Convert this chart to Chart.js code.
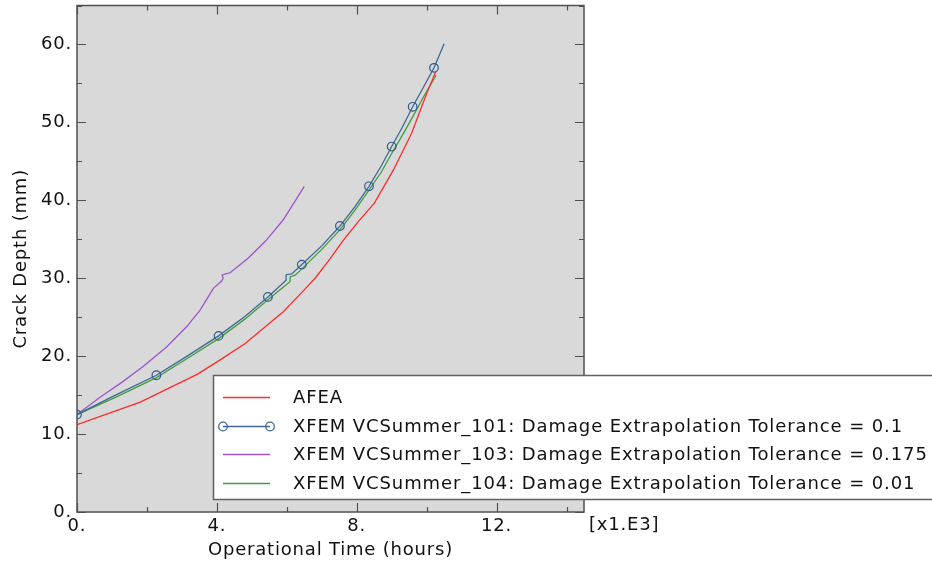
<!DOCTYPE html>
<html>
<head>
<meta charset="utf-8">
<script src="https://cdn.jsdelivr.net/npm/chart.js@4.4.1/dist/chart.umd.min.js"></script>
<style>
  html, body { margin: 0; padding: 0; background: #fff; }
</style>
</head>
<body>
<canvas id="myChart" width="932" height="565"></canvas>
<script>
// crack depth (mm) against operational time (x1000 h)
const afeaTime = [0, 1.81, 3.45, 4.05, 4.8, 5.9, 6.35, 6.81, 7.22, 7.62, 8.05, 8.5, 9.05, 9.57, 10.0, 10.27];
const afeaDepth = [11.2, 14.1, 17.7, 19.4, 21.6, 25.7, 27.8, 30.0, 32.4, 34.9, 37.3, 39.6, 43.9, 48.6, 53.7, 56.6];

const xfem101Time = [0, 1.1, 2.27, 3.15, 4.05, 4.8, 5.46, 5.98, 5.98, 6.14, 6.43, 7.0, 7.52, 7.95, 8.35, 8.7, 9.0, 9.3, 9.6, 9.9, 10.21, 10.5];
const xfem101Depth = [12.5, 15.0, 17.55, 20.0, 22.6, 25.1, 27.6, 29.75, 30.45, 30.55, 31.75, 34.15, 36.7, 39.2, 41.8, 44.4, 46.9, 49.35, 52.0, 54.45, 57.0, 60.1];
const xfem101Marks = [0, 2, 4, 6, 10, 12, 14, 16, 18, 20];

const xfem103Time = [0, 0.65, 1.3, 1.9, 2.57, 3.14, 3.52, 3.9, 4.13, 4.18, 4.15, 4.25, 4.38, 4.9, 5.4, 5.9, 6.5];
const xfem103Depth = [12.5, 14.7, 16.7, 18.7, 21.2, 23.8, 25.9, 28.7, 29.6, 30.0, 30.4, 30.55, 30.7, 32.6, 34.8, 37.5, 41.8];

const xfem104Time = [0, 1.1, 2.27, 3.15, 4.05, 4.8, 5.46, 6.09, 6.1, 6.24, 6.43, 7.0, 7.52, 7.95, 8.35, 8.7, 9.0, 9.3, 9.6, 9.9, 10.27];
const xfem104Depth = [12.5, 14.7, 17.25, 19.7, 22.25, 24.75, 27.25, 29.55, 30.2, 30.4, 31.2, 33.7, 36.2, 38.75, 41.3, 43.6, 46.0, 48.3, 50.7, 53.2, 56.05];

const seriesLabels = [
  'AFEA',
  'XFEM VCSummer_101: Damage Extrapolation Tolerance = 0.1',
  'XFEM VCSummer_103: Damage Extrapolation Tolerance = 0.175',
  'XFEM VCSummer_104: Damage Extrapolation Tolerance = 0.01'
];

const FONT = 'DejaVu Sans, Verdana, sans-serif';
const SPACING = '0.8px';

const pts = (xs, ys) => xs.map((x, i) => ({ x: x, y: ys[i] }));

// no label overhang padding, the plot box is placed by the layout padding
const noOverhang = s => {
  s.paddingTop = 0; s.paddingBottom = 0; s.paddingLeft = 0; s.paddingRight = 0;
};

// wider text tracking for every label
const tracking = {
  id: 'tracking',
  beforeLayout(chart) { chart.ctx.letterSpacing = SPACING; },
  beforeDraw(chart) { chart.ctx.letterSpacing = SPACING; }
};

// grey plot area, frame and inward tick marks on every side
const frame = {
  id: 'frame',
  beforeDatasetsDraw(chart) {
    const { ctx, chartArea: a } = chart;
    ctx.save();
    ctx.fillStyle = '#d9d9d9';
    ctx.fillRect(a.left, a.top, a.right - a.left, a.bottom - a.top);
    ctx.restore();
  },
  afterDatasetsDraw(chart) {
    const { ctx, chartArea: a, scales } = chart;
    ctx.save();
    ctx.strokeStyle = '#505050';
    ctx.lineWidth = 1.5;
    ctx.strokeRect(a.left, a.top, a.right - a.left, a.bottom - a.top);
    ctx.lineWidth = 1.2;
    ctx.beginPath();
    for (let v = 0; v <= 14.5; v += 2) {
      const px = Math.round(scales.x.getPixelForValue(v)) + 0.5;
      const len = v % 4 === 0 ? 9 : 5;
      ctx.moveTo(px, a.bottom); ctx.lineTo(px, a.bottom - len);
      ctx.moveTo(px, a.top); ctx.lineTo(px, a.top + len);
    }
    for (let v = 0; v <= 65; v += 5) {
      const py = Math.round(scales.y.getPixelForValue(v)) + 0.5;
      const len = v % 10 === 0 ? 9 : 5;
      ctx.moveTo(a.left, py); ctx.lineTo(a.left + len, py);
      ctx.moveTo(a.right, py); ctx.lineTo(a.right - len, py);
    }
    ctx.stroke();

    ctx.fillStyle = '#111';
    ctx.font = '18px ' + FONT;
    ctx.letterSpacing = SPACING;
    ctx.textBaseline = 'middle';
    ctx.textAlign = 'left';
    ctx.fillText('[x1.E3]', a.right + 5, 525);
    ctx.restore();
  }
};

// boxed legend overlapping the lower right corner
const legendBox = {
  id: 'legendBox',
  afterDraw(chart) {
    const ctx = chart.ctx;
    ctx.save();
    ctx.fillStyle = '#fff';
    ctx.fillRect(213.5, 375.5, 720, 124);
    ctx.strokeStyle = '#606060';
    ctx.lineWidth = 1.5;
    ctx.strokeRect(213.5, 375.5, 720, 124);
    ctx.font = '18px ' + FONT;
    ctx.letterSpacing = '0.9px';
    ctx.textBaseline = 'middle';
    ctx.textAlign = 'left';
    chart.data.datasets.forEach((ds, i) => {
      const y = Math.round(397 + i * 28.6) + 0.5;
      ctx.strokeStyle = ds.borderColor;
      ctx.lineWidth = ds.borderWidth;
      ctx.beginPath();
      ctx.moveTo(223, y); ctx.lineTo(270, y);
      ctx.stroke();
      if (ds.label === seriesLabels[1]) {
        [223, 270].forEach(cx => {
          ctx.beginPath();
          ctx.arc(cx, y, 4.3, 0, Math.PI * 2);
          ctx.stroke();
        });
      }
      ctx.fillStyle = '#111';
      ctx.fillText(ds.label, 293, y + 1);
    });
    ctx.restore();
  }
};

var ctx = document.getElementById('myChart').getContext('2d');
// eslint-disable-next-line no-unused-vars
var chart = new Chart(ctx, {
  type: 'scatter',
  data: {
    datasets: [{
      label: seriesLabels[0],
      data: pts(afeaTime, afeaDepth),
      borderColor: '#ff2b2b',
      borderWidth: 1.3,
      showLine: true,
      pointRadius: 0
    }, {
      label: seriesLabels[1],
      data: pts(xfem101Time, xfem101Depth),
      borderColor: '#3f6894',
      borderWidth: 1.3,
      showLine: true,
      pointStyle: 'circle',
      pointRadius: c => xfem101Marks.includes(c.dataIndex) ? 4.3 : 0,
      pointBorderWidth: 1.2,
      pointBorderColor: '#2f5a8a',
      pointBackgroundColor: 'rgba(0,0,0,0)'
    }, {
      label: seriesLabels[2],
      data: pts(xfem103Time, xfem103Depth),
      borderColor: '#9c55cc',
      borderWidth: 1.3,
      showLine: true,
      pointRadius: 0
    }, {
      label: seriesLabels[3],
      data: pts(xfem104Time, xfem104Depth),
      borderColor: '#3f9e3f',
      borderWidth: 1.3,
      showLine: true,
      pointRadius: 0
    }]
  },
  options: {
    responsive: false,
    animation: false,
    layout: { padding: { top: 5, right: 348, bottom: 0, left: 0 } },
    plugins: {
      legend: { display: false },
      tooltip: { enabled: false }
    },
    scales: {
      x: {
        type: 'linear',
        min: 0,
        max: 14.5,
        afterFit: s => { s.height = 53; noOverhang(s); },
        grid: { display: false, drawTicks: false },
        border: { display: false },
        ticks: {
          stepSize: 4,
          includeBounds: false,
          maxRotation: 0,
          autoSkip: false,
          padding: 4,
          color: '#111',
          font: { family: FONT, size: 18 },
          callback: v => v + '.'
        },
        title: {
          display: true,
          text: 'Operational Time (hours)',
          color: '#111',
          font: { family: FONT, size: 18 },
          padding: { top: 0, bottom: 4 }
        }
      },
      y: {
        type: 'linear',
        min: 0,
        max: 65,
        afterFit: s => { s.width = 77; noOverhang(s); },
        grid: { display: false, drawTicks: false },
        border: { display: false },
        ticks: {
          stepSize: 10,
          includeBounds: false,
          padding: 5,
          color: '#111',
          font: { family: FONT, size: 18 },
          callback: v => v + '.'
        },
        title: {
          display: true,
          text: 'Crack Depth (mm)',
          color: '#111',
          font: { family: FONT, size: 18 },
          padding: { top: 11, bottom: 0 }
        }
      }
    }
  },
  plugins: [tracking, frame, legendBox]
});
</script>
</body>
</html>
